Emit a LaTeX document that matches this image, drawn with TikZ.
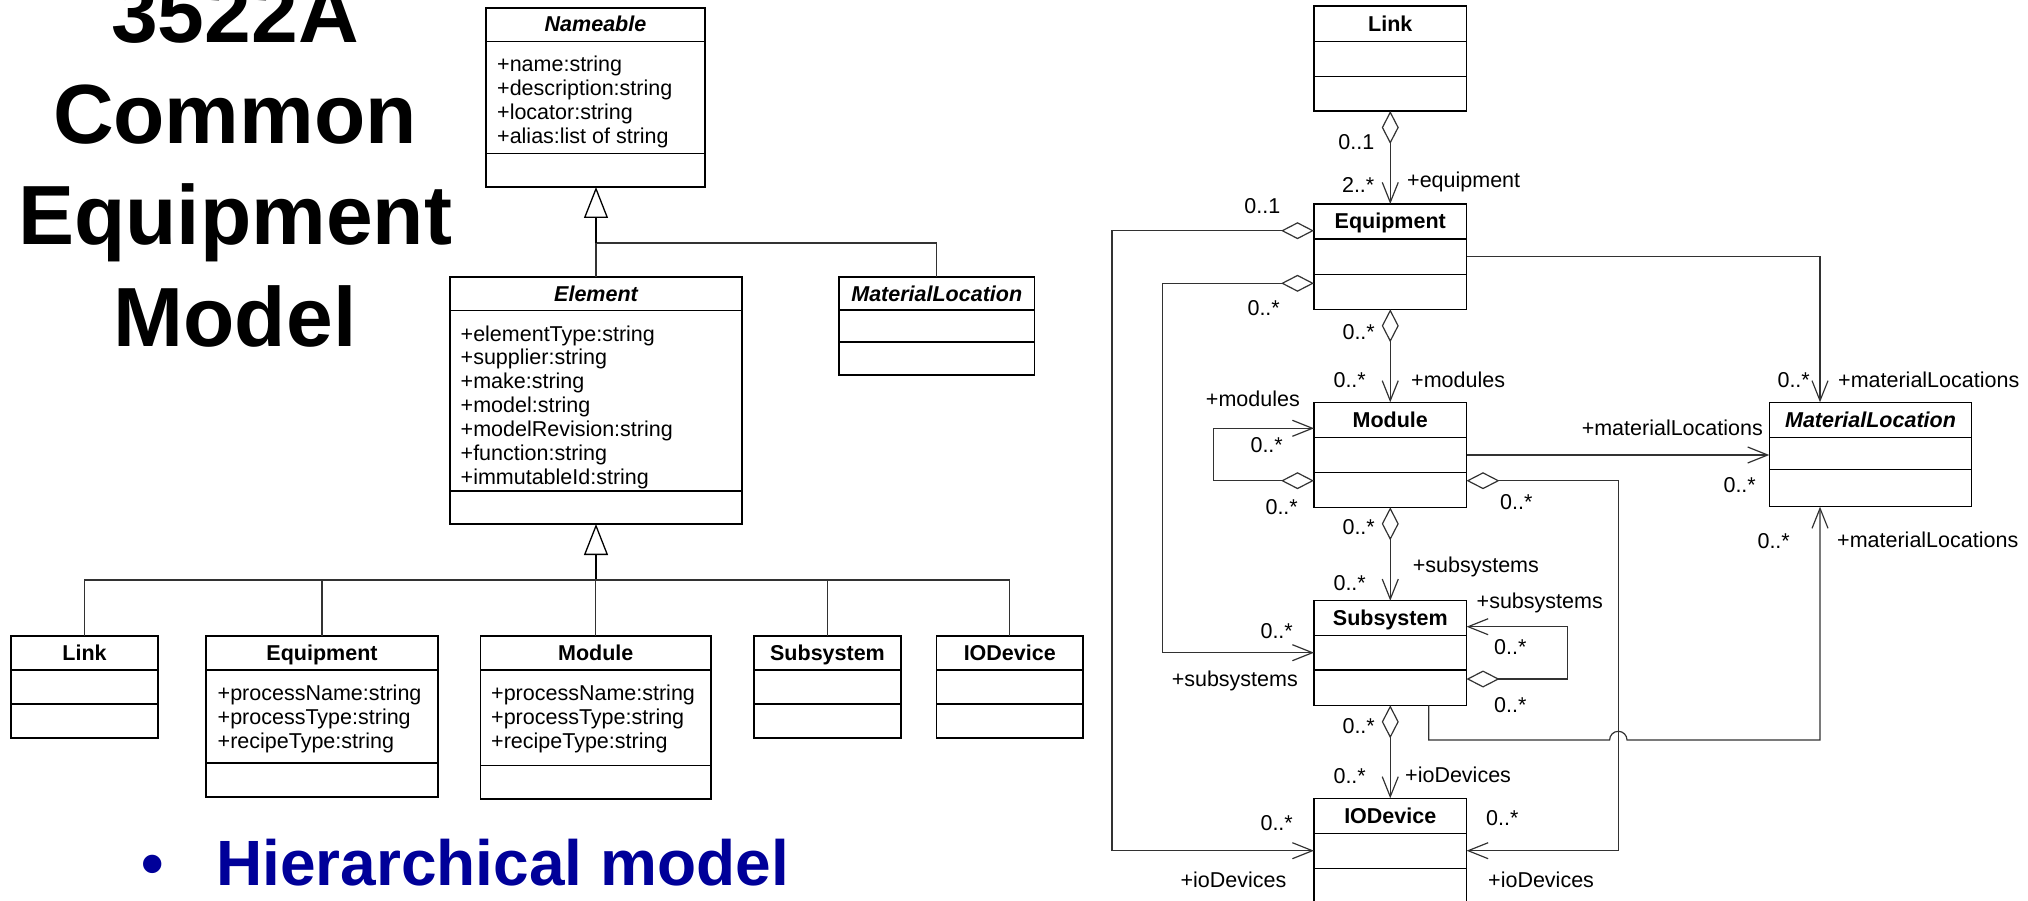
\documentclass[tikz,border=0pt]{standalone}
\usepackage{fontspec}
\setmainfont{Liberation Sans}
\usetikzlibrary{arrows.meta}
\definecolor{bulletblue}{RGB}{0,0,153}
\definecolor{conncol}{RGB}{50,50,50}
\newcommand\mkclass[7]{%
  \node[cls, minimum width=#4pt, minimum height=#5pt] (#1) at (#2,#3) {};
  \draw[sepline] ([yshift=-#6pt]#1.north west) -- ([yshift=-#6pt]#1.north east);
  \draw[sepline] ([yshift=-#7pt]#1.north west) -- ([yshift=-#7pt]#1.north east);
}
\tikzset{
  cls/.style={draw=black, line width=1.4pt, anchor=north west, inner sep=0pt, outer sep=0pt},
  sepline/.style={line width=1.3pt},
  smallfont/.style={font=\fontsize{21.5}{24}\selectfont},
  hdr/.style={font=\fontsize{21.5}{24}\selectfont\bfseries, anchor=base, inner sep=0pt},
  ihdr/.style={font=\fontsize{21.5}{24}\selectfont\bfseries\itshape, anchor=base, inner sep=0pt},
  attr/.style={smallfont, anchor=base west, inner sep=0pt},
  lw/.style={smallfont, anchor=base west, inner sep=0pt},
  le/.style={smallfont, anchor=base east, inner sep=0pt},
  conn/.style={draw=conncol, line width=1.2pt},
  agg/.style={conn, {Diamond[open, length=33pt, width=17pt, line width=1.2pt]}-{Straight Barb[length=20pt, width=16pt, line width=1.2pt]}},
  nav/.style={conn, -{Straight Barb[length=20pt, width=16pt, line width=1.2pt]}},
  gen/.style={draw=black, line width=1.8pt, -{Triangle[open, length=31pt, width=24pt, line width=1.3pt]}},
  titlefont/.style={font=\fontsize{84}{100}\selectfont\bfseries, anchor=base, inner sep=0pt},
  bulfont/.style={font=\fontsize{64}{70}\selectfont\bfseries, text=bulletblue, inner sep=0pt},
}
\begin{document}
\begin{tikzpicture}[x=1pt, y=-1pt]
\useasboundingbox (0,0) rectangle (2028,901);

% ---------- title ----------
\node[titlefont] (t1) at (235,43) {3522A};
\node[titlefont] (t2) at (235,144) {Common};
\node[titlefont] (t3) at (235,245) {Equipment};
\node[titlefont] (t4) at (235,346) {Model};

% ---------- bullet ----------
\node[bulfont, anchor=base] (bul) at (153,885) {•};
\node[bulfont, anchor=base west] (bultext) at (216,885) {Hierarchical model};

% ---------- left: inheritance diagram ----------
\mkclass{nameL}{486}{8}{219}{179}{33.5}{145.5}
\node[ihdr] (nameL-h) at (595.5,32) {Nameable};
\foreach \t [count=\i] in {+name:string,+description:string,+locator:string,+alias:list of string}
  \node[attr] (nameL-a\i) at (497,{72+23.7*(\i-1)}) {\t};

\mkclass{elemL}{450}{277}{292}{247}{33.6}{214}
\node[ihdr] (elemL-h) at (596,301) {Element};
\foreach \t [count=\i] in {+elementType:string,+supplier:string,+make:string,+model:string,+modelRevision:string,+function:string,+immutableId:string}
  \node[attr] (elemL-a\i) at (460.5,{341+23.9*(\i-1)}) {\t};

\mkclass{matL}{839}{277}{195.5}{98}{33}{65}
\node[ihdr] (matL-h) at (936.75,301) {MaterialLocation};

\mkclass{linkB}{11}{636}{147}{102}{34}{68}
\node[hdr] (linkB-h) at (84.5,660.5) {Link};

\mkclass{equipB}{206}{636}{232}{161}{34}{127}
\node[hdr] (equipB-h) at (322,660.5) {Equipment};
\foreach \t [count=\i] in {+processName:string,+processType:string,+recipeType:string}
  \node[attr] (equipB-a\i) at (217.5,{700+24*(\i-1)}) {\t};

\mkclass{modB}{480.5}{636}{230.5}{163}{34}{129.7}
\node[hdr] (modB-h) at (595.75,660.5) {Module};
\foreach \t [count=\i] in {+processName:string,+processType:string,+recipeType:string}
  \node[attr] (modB-a\i) at (491,{700+24*(\i-1)}) {\t};

\mkclass{subB}{754}{636}{147}{102}{34}{68}
\node[hdr] (subB-h) at (827.5,660.5) {Subsystem};

\mkclass{iodB}{936.5}{636}{146.5}{102}{34}{68}
\node[hdr] (iodB-h) at (1009.75,660.5) {IODevice};

% generalization tree 1
\coordinate (gj1) at (596,243);
\draw[conn] (elemL.north) -- (gj1);
\draw[conn] (matL.north) |- (gj1);
\draw[gen] (gj1) -- (gj1 |- nameL.south);

% generalization tree 2
\coordinate (gj2) at (596,580);
\draw[gen] (gj2) -- (gj2 |- elemL.south);
\draw[conn] (linkB.north) -- (linkB.north |- gj2) -- (iodB.north |- gj2) -- (iodB.north);
\draw[conn] (equipB.north) -- (equipB.north |- gj2);
\draw[conn] (modB.north) -- (modB.north |- gj2);
\draw[conn] (subB.north) -- (subB.north |- gj2);

% ---------- right: containment diagram ----------
\mkclass{linkR}{1314}{6}{152.5}{105}{35.3}{70.3}
\node[hdr] (linkR-h) at (1390.25,31.5) {Link};
\mkclass{equipR}{1314}{204}{152.5}{105.3}{35}{70.3}
\node[hdr] (equipR-h) at (1390.25,229) {Equipment};
\mkclass{modR}{1314}{402.3}{152.5}{105}{35}{70}
\node[hdr] (modR-h) at (1390.25,427) {Module};
\mkclass{subR}{1314}{600.7}{152.5}{104.6}{35}{69.3}
\node[hdr] (subR-h) at (1390.25,625.5) {Subsystem};
\mkclass{iodR}{1314}{798.3}{152.5}{105}{35}{70}
\node[hdr] (iodR-h) at (1390.25,823) {IODevice};
\mkclass{matR}{1769.3}{402.3}{202.4}{104.4}{35}{67}
\node[ihdr] (matR-h) at (1870.5,427) {MaterialLocation};

% connection points
\coordinate (ew1) at ([yshift=-26.7pt]equipR.north west);
\coordinate (ew2) at ([yshift=-79.3pt]equipR.north west);
\coordinate (ee)  at ([yshift=-52.7pt]equipR.north east);
\coordinate (mw1) at ([yshift=-26pt]modR.north west);
\coordinate (mw2) at ([yshift=-78.4pt]modR.north west);
\coordinate (me1) at ([yshift=-52.7pt]modR.north east);
\coordinate (me2) at ([yshift=-78.4pt]modR.north east);
\coordinate (mlw) at ([yshift=-52.7pt]matR.north west);
\coordinate (mln) at ([xshift=-50.5pt]matR.north);
\coordinate (mls) at ([xshift=-50.5pt]matR.south);
\coordinate (sw)  at ([yshift=-52pt]subR.north west);
\coordinate (se1) at ([yshift=-26pt]subR.north east);
\coordinate (se2) at ([yshift=-78.3pt]subR.north east);
\coordinate (ss)  at ([xshift=38.5pt]subR.south);
\coordinate (iw)  at ([yshift=-52.4pt]iodR.north west);
\coordinate (ie)  at ([yshift=-52.4pt]iodR.north east);
\coordinate (bendA) at (1112,850.7);
\coordinate (bendB) at (1162.7,652.7);
\coordinate (bendE) at (1213.3,428.3);
\coordinate (bendG) at (1618.3,850.7);
\coordinate (bendI) at (1567.5,626.7);
\coordinate (jumpL) at (1609.6,740);
\coordinate (jumpR) at (1820,740);

% Link -> Equipment
\draw[agg] (linkR.south) -- (equipR.north);
\node[le] (l1a) at (1374.5,150) {0..1};
\node[le] (l1b) at (1374.5,193) {2..*};
\node[lw] (l1c) at (1407,188) {+equipment};

% Equipment -> IODevice (left loop)
\draw[agg] (ew1) -| (bendA) -- (iw);
\node[le] (l2a) at (1280.5,214) {0..1};
\node[le] (l2b) at (1293,830) {0..*};
\node[le] (l2c) at (1286.5,887) {+ioDevices};

% Equipment -> Subsystem (left loop)
\draw[agg] (ew2) -| (bendB) -- (sw);
\node[le] (l3a) at (1280,315) {0..*};
\node[le] (l3b) at (1293,638) {0..*};
\node[le] (l3c) at (1298,686) {+subsystems};

% Equipment -> MaterialLocation
\draw[nav] (ee) -| (mln);
\node[le] (l4a) at (1810,387) {0..*};
\node[lw] (l4b) at (1838,387) {+materialLocations};

% Equipment -> Module
\draw[agg] (equipR.south) -- (modR.north);
\node[le] (l5a) at (1375,339) {0..*};
\node[le] (l5b) at (1366,387) {0..*};
\node[lw] (l5c) at (1411,387) {+modules};

% Module self loop
\draw[agg] (mw2) -| (bendE) -- (mw1);
\node[le] (l6a) at (1300,406) {+modules};
\node[le] (l6b) at (1283,452) {0..*};
\node[le] (l6c) at (1298,514) {0..*};

% Module -> MaterialLocation
\draw[nav] (me1) -- (mlw);
\node[le] (l7a) at (1763,435) {+materialLocations};
\node[le] (l7b) at (1756,492) {0..*};

% Module -> IODevice (right loop)
\draw[agg] (me2) -| (bendG) -- (ie);
\node[lw] (l8a) at (1500,509) {0..*};
\node[lw] (l8b) at (1486,825) {0..*};
\node[lw] (l8c) at (1488,887) {+ioDevices};

% Module -> Subsystem
\draw[agg] (modR.south) -- (subR.north);
\node[le] (l9a) at (1375,534) {0..*};
\node[le] (l9b) at (1366,590) {0..*};
\node[lw] (l9c) at (1412.6,572) {+subsystems};

% Subsystem self loop
\draw[agg] (se2) -| (bendI) -- (se1);
\node[lw] (l10a) at (1476.5,608) {+subsystems};
\node[lw] (l10b) at (1494,654) {0..*};
\node[lw] (l10c) at (1494,712) {0..*};

% Subsystem -> MaterialLocation (with jump)
\draw[nav] (ss) |- (jumpL) arc[start angle=180, end angle=360, radius=8.7] -- (jumpR) -- (mls);
\node[le] (l11a) at (1790,548) {0..*};
\node[lw] (l11b) at (1837,547) {+materialLocations};

% Subsystem -> IODevice
\draw[agg] (subR.south) -- (iodR.north);
\node[le] (l12a) at (1375,733) {0..*};
\node[le] (l12b) at (1366,783) {0..*};
\node[lw] (l12c) at (1405,782) {+ioDevices};
\end{tikzpicture}
\end{document}
